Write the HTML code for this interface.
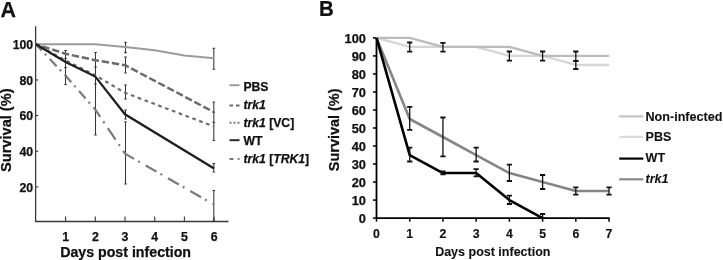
<!DOCTYPE html><html><head><meta charset="utf-8"><style>html,body{margin:0;padding:0;background:#fff;}svg{display:block;filter:blur(0.3px)}text{font-family:"Liberation Sans",sans-serif;font-weight:bold;stroke:#111;stroke-width:0.25px}</style></head><body>
<svg width="723" height="260" viewBox="0 0 723 260">
<rect width="723" height="260" fill="#fff"/>
<text x="0.4" y="16.6" font-size="21.4" fill="#111">A</text>
<path d="M35.6 26.3 V221.5 H228.5" fill="none" stroke="#3a3a3a" stroke-width="1.3"/>
<path d="M35.7 186.90 h2.6" stroke="#3a3a3a" stroke-width="1.1"/>
<text x="33.2" y="191.60" font-size="12.3" text-anchor="end" fill="#111">20</text>
<path d="M35.7 151.25 h2.6" stroke="#3a3a3a" stroke-width="1.1"/>
<text x="33.2" y="155.95" font-size="12.3" text-anchor="end" fill="#111">40</text>
<path d="M35.7 115.60 h2.6" stroke="#3a3a3a" stroke-width="1.1"/>
<text x="33.2" y="120.30" font-size="12.3" text-anchor="end" fill="#111">60</text>
<path d="M35.7 79.95 h2.6" stroke="#3a3a3a" stroke-width="1.1"/>
<text x="33.2" y="84.65" font-size="12.3" text-anchor="end" fill="#111">80</text>
<path d="M35.7 44.30 h2.6" stroke="#3a3a3a" stroke-width="1.1"/>
<text x="33.2" y="49.00" font-size="12.3" text-anchor="end" fill="#111">100</text>
<path d="M65.60 221.5 v-5" stroke="#3a3a3a" stroke-width="1.1"/>
<text x="65.60" y="240.5" font-size="12.3" text-anchor="middle" fill="#111">1</text>
<path d="M95.30 221.5 v-5" stroke="#3a3a3a" stroke-width="1.1"/>
<text x="95.30" y="240.5" font-size="12.3" text-anchor="middle" fill="#111">2</text>
<path d="M125.00 221.5 v-5" stroke="#3a3a3a" stroke-width="1.1"/>
<text x="125.00" y="240.5" font-size="12.3" text-anchor="middle" fill="#111">3</text>
<path d="M154.70 221.5 v-5" stroke="#3a3a3a" stroke-width="1.1"/>
<text x="154.70" y="240.5" font-size="12.3" text-anchor="middle" fill="#111">4</text>
<path d="M184.40 221.5 v-5" stroke="#3a3a3a" stroke-width="1.1"/>
<text x="184.40" y="240.5" font-size="12.3" text-anchor="middle" fill="#111">5</text>
<path d="M214.10 221.5 v-5" stroke="#3a3a3a" stroke-width="1.1"/>
<text x="214.10" y="240.5" font-size="12.3" text-anchor="middle" fill="#111">6</text>
<text x="125.6" y="257.1" font-size="14.2" text-anchor="middle" fill="#111">Days post infection</text>
<text transform="translate(10.9 130.2) rotate(-90)" font-size="14.6" text-anchor="middle" fill="#111">Survival (%)</text>
<path d="M65.50 50.5 V84.4 M64.20 50.5 h2.6 M64.20 84.4 h2.6" stroke="#383838" stroke-width="1.05" fill="none"/>
<path d="M95.50 52.5 V135 M94.20 52.5 h2.6 M94.20 135 h2.6" stroke="#383838" stroke-width="1.05" fill="none"/>
<path d="M125.50 42.3 V52.6 M124.20 42.3 h2.6 M124.20 52.6 h2.6" stroke="#383838" stroke-width="1.05" fill="none"/>
<path d="M125.50 57.0 V73.0 M124.20 57.0 h2.6 M124.20 73.0 h2.6" stroke="#383838" stroke-width="1.05" fill="none"/>
<path d="M125.50 85 V99 M124.20 85 h2.6 M124.20 99 h2.6" stroke="#383838" stroke-width="1.05" fill="none"/>
<path d="M125.50 110 V119 M124.20 110 h2.6 M124.20 119 h2.6" stroke="#383838" stroke-width="1.05" fill="none"/>
<path d="M125.50 121.8 V184 M124.20 121.8 h2.6 M124.20 184 h2.6" stroke="#383838" stroke-width="1.05" fill="none"/>
<path d="M213.80 48.3 V69.3 M212.50 48.3 h2.6 M212.50 69.3 h2.6" stroke="#383838" stroke-width="1.05" fill="none"/>
<path d="M213.80 101.9 V140.4 M212.50 101.9 h2.6 M212.50 140.4 h2.6" stroke="#383838" stroke-width="1.05" fill="none"/>
<path d="M213.80 163.5 V172 M212.50 163.5 h2.6 M212.50 172 h2.6" stroke="#383838" stroke-width="1.05" fill="none"/>
<path d="M213.80 190.4 V221 M212.50 190.4 h2.6 M212.50 221 h2.6" stroke="#383838" stroke-width="1.05" fill="none"/>
<path d="M64.20 58.5 h2.6" stroke="#383838" stroke-width="1.05"/>
<path d="M64.20 67.5 h2.6" stroke="#383838" stroke-width="1.05"/>
<path d="M64.20 75.3 h2.6" stroke="#383838" stroke-width="1.05"/>
<path d="M94.20 67 h2.6" stroke="#383838" stroke-width="1.05"/>
<path d="M94.20 84 h2.6" stroke="#383838" stroke-width="1.05"/>
<path d="M124.20 65 h2.6" stroke="#383838" stroke-width="1.05"/>
<path d="M212.50 122.4 h2.6" stroke="#383838" stroke-width="1.05"/>
<path d="M212.50 112.2 h2.6" stroke="#383838" stroke-width="1.05"/>
<polyline points="35.90,44.30 65.60,44.30 95.30,44.30 125.00,46.90 154.70,50.20 184.40,55.60 214.10,58.20" fill="none" stroke="#9c9c9c" stroke-width="2"/>
<polyline points="35.90,44.30 65.60,75.80 95.30,109.60" fill="none" stroke="#7a7a7a" stroke-width="2.2" stroke-dasharray="10 4.5 2 5.2" stroke-dashoffset="1.5"/>
<polyline points="95.30,109.60 125.00,153.60" fill="none" stroke="#7a7a7a" stroke-width="2.2" stroke-dasharray="14 5.5 2 6" stroke-dashoffset="5.2"/>
<polyline points="125.00,153.60 214.10,204.70" fill="none" stroke="#7a7a7a" stroke-width="2.2" stroke-dasharray="12.5 4.5 2 6.7" stroke-dashoffset="1.9"/>
<polyline points="35.90,44.30 65.60,60.50 95.30,75.30 125.00,92.80 214.10,126.50" fill="none" stroke="#6e6e6e" stroke-width="2.2" stroke-dasharray="3.7 3.6" stroke-dashoffset="1.7"/>
<polyline points="35.90,44.30 65.60,53.80 95.30,60.20 125.00,65.20 214.10,112.20" fill="none" stroke="#6a6a6a" stroke-width="2.5" stroke-dasharray="7.4 2.8" stroke-dashoffset="3.3"/>
<polyline points="35.90,44.30 65.60,62.00 95.30,76.60 125.00,114.30 214.10,168.50" fill="none" stroke="#1e1e1e" stroke-width="2.2"/>
<path d="M229.5 85.2 H239.5" stroke="#9c9c9c" stroke-width="2"/>
<text x="243.4" y="90.9" font-size="12.2" fill="#111">PBS</text>
<path d="M229.5 105.6 H239.5" stroke="#6a6a6a" stroke-width="2" stroke-dasharray="3.6 2.9"/>
<text x="243.4" y="109.3" font-size="12.2" fill="#111"><tspan font-style="italic">trk1</tspan></text>
<path d="M229.5 122.8 H239.5" stroke="#7a7a7a" stroke-width="2" stroke-dasharray="2 2"/>
<text x="243.4" y="126.8" font-size="12.2" fill="#111"><tspan font-style="italic">trk1</tspan> [VC]</text>
<path d="M229.5 140.2 H239.5" stroke="#2a2a2a" stroke-width="2"/>
<text x="243.4" y="144.7" font-size="12.2" fill="#111">WT</text>
<path d="M229.5 159.0 H239.5" stroke="#7a7a7a" stroke-width="2" stroke-dasharray="4 4.2 1.8 10"/>
<text x="243.4" y="162.9" font-size="12.2" fill="#111"><tspan font-style="italic">trk1</tspan> [<tspan font-style="italic">TRK1</tspan>]</text>
<text transform="translate(318.9 15.9) scale(0.93 1)" font-size="22" fill="#111">B</text>
<path d="M376.5 37.40 V218.1 H609.54" fill="none" stroke="#000" stroke-width="1.8"/>
<path d="M372.90 218.10 H376.5" stroke="#000" stroke-width="1.5"/>
<text x="365.9" y="223.10" font-size="12.8" text-anchor="end" fill="#111">0</text>
<path d="M372.90 200.08 H376.5" stroke="#000" stroke-width="1.5"/>
<text x="365.9" y="205.08" font-size="12.8" text-anchor="end" fill="#111">10</text>
<path d="M372.90 182.06 H376.5" stroke="#000" stroke-width="1.5"/>
<text x="365.9" y="187.06" font-size="12.8" text-anchor="end" fill="#111">20</text>
<path d="M372.90 164.04 H376.5" stroke="#000" stroke-width="1.5"/>
<text x="365.9" y="169.04" font-size="12.8" text-anchor="end" fill="#111">30</text>
<path d="M372.90 146.02 H376.5" stroke="#000" stroke-width="1.5"/>
<text x="365.9" y="151.02" font-size="12.8" text-anchor="end" fill="#111">40</text>
<path d="M372.90 128.00 H376.5" stroke="#000" stroke-width="1.5"/>
<text x="365.9" y="133.00" font-size="12.8" text-anchor="end" fill="#111">50</text>
<path d="M372.90 109.98 H376.5" stroke="#000" stroke-width="1.5"/>
<text x="365.9" y="114.98" font-size="12.8" text-anchor="end" fill="#111">60</text>
<path d="M372.90 91.96 H376.5" stroke="#000" stroke-width="1.5"/>
<text x="365.9" y="96.96" font-size="12.8" text-anchor="end" fill="#111">70</text>
<path d="M372.90 73.94 H376.5" stroke="#000" stroke-width="1.5"/>
<text x="365.9" y="78.94" font-size="12.8" text-anchor="end" fill="#111">80</text>
<path d="M372.90 55.92 H376.5" stroke="#000" stroke-width="1.5"/>
<text x="365.9" y="60.92" font-size="12.8" text-anchor="end" fill="#111">90</text>
<path d="M372.90 37.90 H376.5" stroke="#000" stroke-width="1.5"/>
<text x="365.9" y="42.90" font-size="12.8" text-anchor="end" fill="#111">100</text>
<path d="M376.50 218.1 V221.70" stroke="#000" stroke-width="1.5"/>
<text x="376.50" y="238.2" font-size="12.3" text-anchor="middle" fill="#111" style="stroke-width:0.15px">0</text>
<path d="M409.72 218.1 V221.70" stroke="#000" stroke-width="1.5"/>
<text x="409.72" y="238.2" font-size="12.3" text-anchor="middle" fill="#111" style="stroke-width:0.15px">1</text>
<path d="M442.94 218.1 V221.70" stroke="#000" stroke-width="1.5"/>
<text x="442.94" y="238.2" font-size="12.3" text-anchor="middle" fill="#111" style="stroke-width:0.15px">2</text>
<path d="M476.16 218.1 V221.70" stroke="#000" stroke-width="1.5"/>
<text x="476.16" y="238.2" font-size="12.3" text-anchor="middle" fill="#111" style="stroke-width:0.15px">3</text>
<path d="M509.38 218.1 V221.70" stroke="#000" stroke-width="1.5"/>
<text x="509.38" y="238.2" font-size="12.3" text-anchor="middle" fill="#111" style="stroke-width:0.15px">4</text>
<path d="M542.60 218.1 V221.70" stroke="#000" stroke-width="1.5"/>
<text x="542.60" y="238.2" font-size="12.3" text-anchor="middle" fill="#111" style="stroke-width:0.15px">5</text>
<path d="M575.82 218.1 V221.70" stroke="#000" stroke-width="1.5"/>
<text x="575.82" y="238.2" font-size="12.3" text-anchor="middle" fill="#111" style="stroke-width:0.15px">6</text>
<path d="M609.04 218.1 V221.70" stroke="#000" stroke-width="1.5"/>
<text x="609.04" y="238.2" font-size="12.3" text-anchor="middle" fill="#111" style="stroke-width:0.15px">7</text>
<text x="492.8" y="255.5" font-size="12.5" text-anchor="middle" fill="#111" style="stroke-width:0.1px">Days post infection</text>
<text transform="translate(339.1 129.8) rotate(-90)" font-size="14.45" text-anchor="middle" fill="#111">Survival (%)</text>
<polyline points="376.50,37.90 409.72,46.91 442.94,46.91 476.16,46.91 509.38,55.92 542.60,55.92 575.82,64.93 609.04,64.93" fill="none" stroke="#d6d6d6" stroke-width="2.4" stroke-linejoin="round"/>
<polyline points="376.50,37.90 409.72,37.90 442.94,46.91 476.16,46.91 509.38,46.91 542.60,55.92 575.82,55.92 609.04,55.92" fill="none" stroke="#bcbcbc" stroke-width="2.4" stroke-linejoin="round"/>
<polyline points="376.50,37.90 409.72,118.99 442.94,137.01 476.16,155.03 509.38,173.05 542.60,182.06 575.82,191.07 609.04,191.07" fill="none" stroke="#858585" stroke-width="2.6" stroke-linejoin="round"/>
<polyline points="376.50,37.90 409.72,155.03 442.94,173.05 476.16,173.05 509.38,200.08 542.60,218.10" fill="none" stroke="#000" stroke-width="2.6" stroke-linejoin="round"/>
<path d="M409.72 42.5 V51.6" stroke="#111" stroke-width="1.3" fill="none"/>
<path d="M407.12 42.5 h5.2 M407.12 51.6 h5.2" stroke="#111" stroke-width="1.8" fill="none"/>
<path d="M442.94 42.8 V51.6" stroke="#111" stroke-width="1.3" fill="none"/>
<path d="M440.34 42.8 h5.2 M440.34 51.6 h5.2" stroke="#111" stroke-width="1.8" fill="none"/>
<path d="M509.38 51.5 V60.6" stroke="#111" stroke-width="1.3" fill="none"/>
<path d="M506.78 51.5 h5.2 M506.78 60.6 h5.2" stroke="#111" stroke-width="1.8" fill="none"/>
<path d="M542.60 51.5 V60.6" stroke="#111" stroke-width="1.3" fill="none"/>
<path d="M540.00 51.5 h5.2 M540.00 60.6 h5.2" stroke="#111" stroke-width="1.8" fill="none"/>
<path d="M575.82 51.5 V60.8" stroke="#111" stroke-width="1.3" fill="none"/>
<path d="M573.22 51.5 h5.2 M573.22 60.8 h5.2" stroke="#111" stroke-width="1.8" fill="none"/>
<path d="M575.82 60.8 V69.0" stroke="#111" stroke-width="1.3" fill="none"/>
<path d="M573.22 60.8 h5.2 M573.22 69.0 h5.2" stroke="#111" stroke-width="1.8" fill="none"/>
<path d="M409.72 106.8 V129.8" stroke="#111" stroke-width="1.3" fill="none"/>
<path d="M407.12 106.8 h5.2 M407.12 129.8 h5.2" stroke="#111" stroke-width="1.8" fill="none"/>
<path d="M442.94 117.5 V156.3" stroke="#111" stroke-width="1.3" fill="none"/>
<path d="M440.34 117.5 h5.2 M440.34 156.3 h5.2" stroke="#111" stroke-width="1.8" fill="none"/>
<path d="M476.16 147.7 V161.5" stroke="#111" stroke-width="1.3" fill="none"/>
<path d="M473.56 147.7 h5.2 M473.56 161.5 h5.2" stroke="#111" stroke-width="1.8" fill="none"/>
<path d="M509.38 164.7 V181" stroke="#111" stroke-width="1.3" fill="none"/>
<path d="M506.78 164.7 h5.2 M506.78 181 h5.2" stroke="#111" stroke-width="1.8" fill="none"/>
<path d="M542.60 175 V189" stroke="#111" stroke-width="1.3" fill="none"/>
<path d="M540.00 175 h5.2 M540.00 189 h5.2" stroke="#111" stroke-width="1.8" fill="none"/>
<path d="M575.82 187.3 V194.6" stroke="#111" stroke-width="1.3" fill="none"/>
<path d="M573.22 187.3 h5.2 M573.22 194.6 h5.2" stroke="#111" stroke-width="1.8" fill="none"/>
<path d="M609.04 187.3 V194.6" stroke="#111" stroke-width="1.3" fill="none"/>
<path d="M606.44 187.3 h5.2 M606.44 194.6 h5.2" stroke="#111" stroke-width="1.8" fill="none"/>
<path d="M409.72 147.7 V161.5" stroke="#111" stroke-width="1.3" fill="none"/>
<path d="M407.12 147.7 h5.2 M407.12 161.5 h5.2" stroke="#111" stroke-width="1.8" fill="none"/>
<path d="M442.94 171.3 V174.3" stroke="#111" stroke-width="1.3" fill="none"/>
<path d="M440.34 171.3 h5.2 M440.34 174.3 h5.2" stroke="#111" stroke-width="1.8" fill="none"/>
<path d="M476.16 169.2 V176.3" stroke="#111" stroke-width="1.3" fill="none"/>
<path d="M473.56 169.2 h5.2 M473.56 176.3 h5.2" stroke="#111" stroke-width="1.8" fill="none"/>
<path d="M509.38 195.7 V204" stroke="#111" stroke-width="1.3" fill="none"/>
<path d="M506.78 195.7 h5.2 M506.78 204 h5.2" stroke="#111" stroke-width="1.8" fill="none"/>
<path d="M542.60 214 V218" stroke="#111" stroke-width="1.3" fill="none"/>
<path d="M540.00 214 h5.2 M540.00 218 h5.2" stroke="#111" stroke-width="1.8" fill="none"/>
<path d="M619.2 116.4 H643.3" stroke="#c4c4c4" stroke-width="2.2"/>
<text x="645.5" y="120.7" font-size="12.6" fill="#111" style="stroke-width:0.1px">Non-infected</text>
<path d="M619.2 136.9 H643.3" stroke="#dcdcdc" stroke-width="2.2"/>
<text x="645.5" y="141.1" font-size="12.6" fill="#111" style="stroke-width:0.1px">PBS</text>
<path d="M619.2 158.6 H643.3" stroke="#000" stroke-width="2.2"/>
<text x="645.5" y="162.1" font-size="12.6" fill="#111" style="stroke-width:0.1px">WT</text>
<path d="M619.2 179.3 H643.3" stroke="#888888" stroke-width="2.2"/>
<text x="645.5" y="183.3" font-size="12.6" fill="#111" style="stroke-width:0.1px"><tspan font-style="italic">trk1</tspan></text>
</svg></body></html>
